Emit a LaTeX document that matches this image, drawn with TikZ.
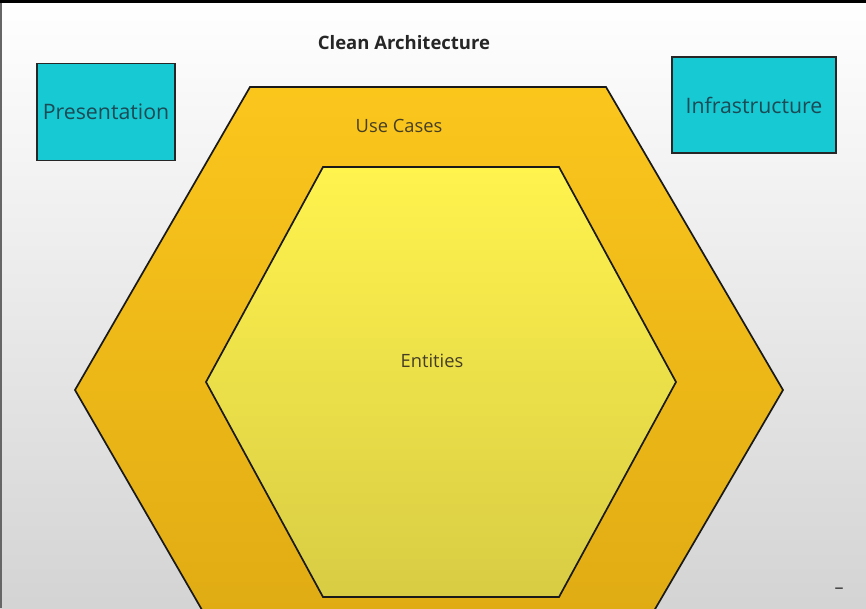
\documentclass[tikz,border=0pt]{standalone}
\usepackage{fontspec}
\setmainfont{Open Sans}
\usetikzlibrary{positioning, calc}

\definecolor{boxcyan}{HTML}{16C9D2}
\definecolor{boxtext}{HTML}{1B4A55}
\definecolor{usetop}{HTML}{FBC61C}
\definecolor{usebot}{HTML}{DCA812}
\definecolor{enttop}{HTML}{FFF34E}
\definecolor{entbot}{HTML}{D8CC44}
\definecolor{hextext}{HTML}{453E25}

\tikzset{
  layerbox/.style={draw=black!85, line width=1.8pt, fill=boxcyan,
    text=boxtext, font=\fontsize{21.3}{25}\selectfont, inner sep=0pt},
  hexline/.style={draw=black!90, line width=1.7pt, line join=miter},
  hexlabel/.style={text=hextext, font=\fontsize{18.3}{22}\selectfont}
}

\begin{document}
\begin{tikzpicture}[x=1pt, y=-1pt]

  % canvas
  \useasboundingbox (0,0) rectangle (866,608);
  \shade[top color=white, middle color=white, bottom color=black!17]
    (0,0) rectangle (866,608);
  \fill[black] (0,0) rectangle (866,3);
  \fill[black!60] (0,3) rectangle (2,608);

  % use cases hexagon
  \coordinate (UA) at (250,87);
  \coordinate (UB) at (606,87);
  \coordinate (UC) at (783,390);
  \coordinate (UD) at (606,693);
  \coordinate (UE) at (250,693);
  \coordinate (UF) at (75,390);
  \begin{scope}
    \clip (0,0) rectangle (866,608);
    \shade[top color=usetop, bottom color=usebot]
      (UA) -- (UB) -- (UC) -- (UD) -- (UE) -- (UF) -- cycle;
    \draw[hexline] (UA) -- (UB) -- (UC) -- (UD) -- (UE) -- (UF) -- cycle;
  \end{scope}

  % entities hexagon
  \coordinate (EA) at (323,167);
  \coordinate (EB) at (559,167);
  \coordinate (EC) at (676,382);
  \coordinate (ED) at (559,597);
  \coordinate (EE) at (323,597);
  \coordinate (EF) at (206,382);
  \shade[top color=enttop, bottom color=entbot]
    (EA) -- (EB) -- (EC) -- (ED) -- (EE) -- (EF) -- cycle;
  \draw[hexline] (EA) -- (EB) -- (EC) -- (ED) -- (EE) -- (EF) -- cycle;

  % labels
  \node[font=\bfseries\fontsize{18.5}{22}\selectfont, text=black!85] (title)
    at (404,43) {Clean Architecture};
  \node[hexlabel] (usecases) at (399,126) {Use Cases};
  \node[hexlabel] (entities) at (432,361) {Entities};

  % outer layers
  \node[layerbox, minimum width=138pt, minimum height=97pt] (presentation)
    at (106,112) {Presentation};
  \node[layerbox, minimum width=164pt, minimum height=96pt] (infrastructure)
    at (754,105) {Infrastructure};

  % corner mark
  \node[text=black!80, font=\fontsize{18}{20}\selectfont] (dash) at (839,591) {–};

\end{tikzpicture}
\end{document}
